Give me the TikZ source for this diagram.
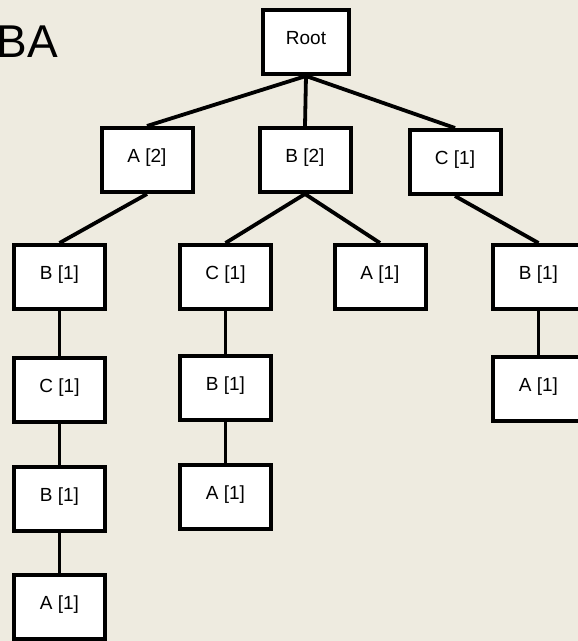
\documentclass[tikz,border=0pt]{standalone}
\usepackage{fontspec}
\setmainfont{Liberation Sans}
\definecolor{bg}{RGB}{238,235,224}
\begin{document}
\begin{tikzpicture}[x=1pt,y=-1pt,
  box/.style={draw=black, fill=white, line width=4pt, minimum width=91pt, minimum height=64pt,
    inner sep=0pt, font=\fontsize{19}{22}\selectfont, text height=14pt, text depth=8.5pt},
  link/.style={line width=3.8pt}]
\clip (0,0) rectangle (578,641);
\fill[bg] (0,0) rectangle (578,641);
\useasboundingbox (0,0) rectangle (578,641);
\node[anchor=base west, inner sep=0pt, font=\fontsize{46}{50}\selectfont] (title) at (-3.4,57) {BA};
\node[box, minimum width=86pt] (root) at (306,42) {Root};
\node[box] (a2) at (147,160) {A [2]};
\node[box] (b2) at (305,160) {B [2]};
\node[box] (c1) at (455,162) {C [1]};
\node[box] (lb1) at (59.5,277) {B [1]};
\node[box] (mc1) at (225.5,277) {C [1]};
\node[box] (ma1) at (380,277) {A [1]};
\node[box] (rb1) at (538.5,277) {B [1]};
\node[box] (lc1) at (59.5,389.5) {C [1]};
\node[box] (mb1) at (225.5,387.5) {B [1]};
\node[box] (ra1) at (538.5,388.5) {A [1]};
\node[box] (lb2) at (59.5,499) {B [1]};
\node[box] (ma2) at (225.5,496.5) {A [1]};
\node[box] (la1) at (59.5,607) {A [1]};
\draw[link] (root.south) -- (a2.north);
\draw[link] (root.south) -- (b2.north);
\draw[link] (root.south) -- (c1.north);
\draw[link] (a2.south) -- (lb1.north);
\draw[link] (lb1.south) -- (lc1.north);
\draw[link] (lc1.south) -- (lb2.north);
\draw[link] (lb2.south) -- (la1.north);
\draw[link] (b2.south) -- (mc1.north);
\draw[link] (b2.south) -- (ma1.north);
\draw[link] (mc1.south) -- (mb1.north);
\draw[link] (mb1.south) -- (ma2.north);
\draw[link] (c1.south) -- (rb1.north);
\draw[link] (rb1.south) -- (ra1.north);
\end{tikzpicture}
\end{document}
